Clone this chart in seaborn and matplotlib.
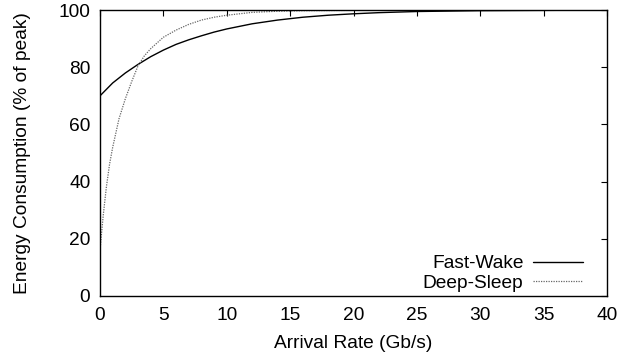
import matplotlib
matplotlib.use("Agg")
import matplotlib.pyplot as plt
import seaborn as sns
import pandas as pd

fw_x = [0, 1, 2, 3, 4, 5, 6, 7, 8, 9, 10, 12, 14, 16, 18, 20, 22, 25, 30, 35, 40]
fw_y = [70, 74.5, 78, 81, 83.7, 86, 88, 89.6, 91, 92.3, 93.4, 95.2, 96.5, 97.5,
        98.2, 98.7, 99.1, 99.5, 99.8, 99.9, 100]

ds_x = [0, 0.25, 0.5, 0.75, 1, 1.25, 1.5, 2, 2.5, 3, 3.5, 4, 4.5, 5, 6, 7, 8, 9,
        10, 12, 14, 16, 20, 25, 30, 35, 40]
ds_y = [16, 28, 38, 46, 52, 57, 62, 69, 75, 80.5, 84, 86.5, 88.5, 90.5, 93, 95,
        96.5, 97.5, 98.2, 99.2, 99.6, 99.8, 99.9, 100, 100, 100, 100]

sns.set_style("white")
plt.rcParams['font.family'] = ['Liberation Sans', 'DejaVu Sans']
plt.rcParams['text.color'] = 'black'
plt.rcParams['axes.labelcolor'] = 'black'
plt.rcParams['xtick.color'] = 'black'
plt.rcParams['ytick.color'] = 'black'

fs = 13.8
fig = plt.figure(figsize=(6.37, 3.6), dpi=100)
ax = fig.add_axes([0.157, 0.178, 0.796, 0.794])

df_fw = pd.DataFrame({"x": fw_x, "y": fw_y})
df_ds = pd.DataFrame({"x": ds_x, "y": ds_y})
sns.lineplot(data=df_fw, x="x", y="y", ax=ax, color="black", lw=1.0,
             label="Fast-Wake")
sns.lineplot(data=df_ds, x="x", y="y", ax=ax, color="#666666", lw=0.9,
             linestyle=(0, (1, 1)), label="Deep-Sleep")

ax.set_xlim(0, 40)
ax.set_ylim(0, 100)
ax.set_xticks(range(0, 41, 5))
ax.set_yticks(range(0, 101, 20))
ax.tick_params(direction="in", length=4, width=0.8, top=True, right=True,
               labelsize=fs)
ax.tick_params(axis="x", pad=8)
ax.tick_params(axis="y", pad=7)
for s in ax.spines.values():
    s.set_color("black")
    s.set_linewidth(1.0)
ax.set_xlabel("Arrival Rate (Gb/s)", fontsize=fs, labelpad=8)
ax.set_ylabel("Energy Consumption (% of peak)", fontsize=fs, labelpad=20)

ax.legend(loc="lower right", frameon=False, markerfirst=False, fontsize=fs,
          handlelength=2.6, handletextpad=0.5, labelspacing=0.1,
          borderaxespad=0.2, bbox_to_anchor=(0.975, -0.025))

fig.savefig("out.png", dpi=100)
